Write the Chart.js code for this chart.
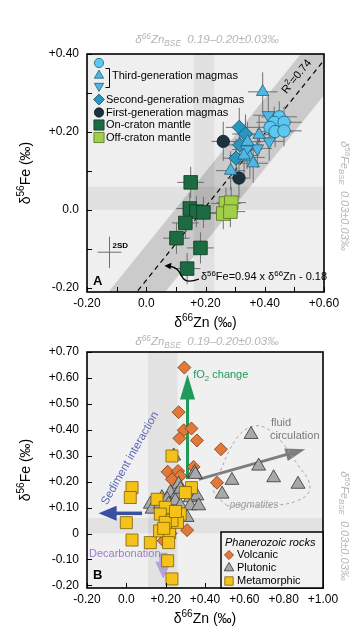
<!DOCTYPE html>
<html>
<head>
<meta charset="utf-8">
<script src="https://cdn.jsdelivr.net/npm/chart.js@4.4.1/dist/chart.umd.min.js"></script>
<style>
html, body { margin: 0; padding: 0; background: #fff; }
#wrap { position: relative; width: 364px; height: 631px; }
canvas { position: absolute; left: 0; }
#chartA { top: 0; }
#chartB { top: 332px; }
</style>
</head>
<body>
<div id="wrap">
  <canvas id="chartA" width="364" height="332"></canvas>
  <canvas id="chartB" width="364" height="299"></canvas>
</div>
<script>
// ---------- panel A data (delta66Zn, delta56Fe, per mil) ----------
const thirdCircleZn = [0.449, 0.432, 0.465, 0.418, 0.435, 0.465];
const thirdCircleFe = [0.239, 0.225, 0.225, 0.212, 0.201, 0.203];
const thirdUpZn = [0.393, 0.381, 0.342, 0.350, 0.361, 0.285, 0.330];
const thirdUpFe = [0.303, 0.193, 0.175, 0.135, 0.120, 0.101, 0.140];
const thirdDownZn = [0.412, 0.415, 0.375, 0.340];
const thirdDownFe = [0.243, 0.176, 0.158, 0.155];
const secondGenZn = [0.314, 0.335, 0.316, 0.303];
const secondGenFe = [0.212, 0.195, 0.167, 0.133];
const firstGenZn = [0.260, 0.313];
const firstGenFe = [0.176, 0.082];
const onCratonZn = [0.150, 0.147, 0.169, 0.193, 0.132, 0.102, 0.183, 0.138];
const onCratonFe = [0.071, 0.004, -0.004, -0.006, -0.033, -0.072, -0.097, -0.150];
const offCratonZn = [0.269, 0.287, 0.260, 0.284];
const offCratonFe = [0.017, 0.019, -0.009, -0.004];
// 2SD error (Zn, Fe) for each group
const errThirdCircle = [0.06, 0.04];
const errThirdTri = [0.05, 0.05];
const errSecondGen = [0.045, 0.05];
const errFirstGen = [0.04, 0.05];
const errOnCraton = [0.045, 0.04];
const errOffCraton = [0.05, 0.04];
const err2SD = [0.04, 0.04];
const pos2SD = [-0.124, -0.108];

// regression: d56Fe = 0.94 x d66Zn - 0.18, shaded envelope
const regSlope = 0.94;
const regIntercept = -0.18;
const regBand = 0.09;
const regZn = [-0.2, 0.6];

// BSE reference ranges
const znBseBandA = [0.16, 0.23];
const feBseBand = [0.0, 0.06];

const xTicksA = [-0.2, -0.1, 0, 0.1, 0.2, 0.3, 0.4, 0.5, 0.6];
const xLabelsA = ['-0.20', '', '0.0', '', '+0.20', '', '+0.40', '', '+0.60'];
const yTicksA = [-0.2, -0.1, 0, 0.1, 0.2, 0.3, 0.4];
const yLabelsA = ['-0.20', '', '0.0', '', '+0.20', '', '+0.40'];

// ---------- panel B data ----------
const volcanicZn = [0.295, 0.266, 0.292, 0.331, 0.270, 0.359, 0.481, 0.210, 0.263, 0.342, 0.274, 0.461, 0.232, 0.309, 0.190, 0.225];
const volcanicFe = [0.640, 0.468, 0.398, 0.405, 0.367, 0.359, 0.325, 0.238, 0.241, 0.257, 0.222, 0.196, 0.209, 0.013, -0.028, 0.000];
const plutonicZn = [0.634, 0.673, 0.749, 0.873, 0.537, 0.487, 0.241, 0.347, 0.266, 0.351, 0.224, 0.258, 0.181, 0.207, 0.325, 0.359, 0.122, 0.131, 0.173, 0.215, 0.249, 0.275, 0.325, 0.368, 0.309, 0.275];
const plutonicFe = [0.382, 0.260, 0.215, 0.190, 0.205, 0.152, 0.299, 0.235, 0.190, 0.228, 0.158, 0.152, 0.138, 0.132, 0.138, 0.145, 0.113, 0.094, 0.113, 0.113, 0.126, 0.107, 0.107, 0.107, 0.062, 0.171];
const metamorphicZn = [0.232, 0.029, 0.020, 0.000, 0.029, 0.331, 0.300, 0.156, 0.122, 0.169, 0.220, 0.215, 0.210, 0.198, 0.274, 0.260, 0.173, 0.232, 0.198, 0.232, 0.190, 0.250];
const metamorphicFe = [0.299, 0.177, 0.139, 0.042, -0.025, 0.177, 0.158, 0.132, -0.035, 0.010, 0.004, -0.035, -0.105, 0.101, 0.075, 0.043, 0.075, 0.050, 0.043, -0.175, 0.020, 0.085];
const pegOutlineZn = [0.512, 0.444, 0.478, 0.563, 0.647, 0.724, 0.800, 0.876, 0.927, 0.927, 0.868, 0.766, 0.512];
const pegOutlineFe = [0.107, 0.164, 0.241, 0.369, 0.414, 0.401, 0.344, 0.260, 0.203, 0.158, 0.126, 0.110, 0.107];
const znBseBandB = [0.11, 0.26];

const xTicksB = [-0.2, 0, 0.2, 0.4, 0.6, 0.8, 1.0];
const xLabelsB = ['-0.20', '0.0', '+0.20', '+0.40', '+0.60', '+0.80', '+1.00'];
const yTicksB = [-0.2, -0.1, 0, 0.1, 0.2, 0.3, 0.4, 0.5, 0.6, 0.7];
const yLabelsB = ['-0.20', '-0.10', '0', '+0.10', '+0.20', '+0.30', '+0.40', '+0.50', '+0.60', '+0.70'];

// trend arrows, [Zn0, Fe0, Zn1, Fe1]
const arrowFO2 = [0.311, 0.21, 0.311, 0.613];
const arrowSediment = [0.08, 0.078, -0.141, 0.078];
const arrowFluid = [0.368, 0.209, 0.91, 0.325];
const arrowDecarb = [0.188, -0.074, 0.188, -0.174];

// ---------- helpers ----------
const FONT = "'Liberation Sans', Arial, Helvetica, sans-serif";
Chart.defaults.font.family = FONT;
Chart.defaults.color = '#000';
const drawPoint = Chart.helpers.drawPoint;

const mk = (zn, fe) => zn.map((x, i) => ({ x, y: fe[i] }));

function rich(ctx, parts, x, y, size, opt) {
  opt = opt || {};
  const st = (opt.italic ? 'italic ' : '') + (opt.bold ? 'bold ' : '');
  const segs = parts.map(p => {
    const t = p[0], k = p[1] || 0;
    const s = k ? size * 0.72 : size;
    ctx.font = st + s + 'px ' + FONT;
    return { t, k, s, w: ctx.measureText(t).width };
  });
  const total = segs.reduce((a, b) => a + b.w, 0);
  let cx = opt.align === 'left' ? x : x - total / 2;
  ctx.save();
  ctx.fillStyle = opt.color || '#000';
  ctx.textBaseline = 'middle';
  ctx.textAlign = 'left';
  segs.forEach(g => {
    ctx.font = st + g.s + 'px ' + FONT;
    const dy = g.k === 1 ? -size * 0.33 : g.k === -1 ? size * 0.3 : 0;
    ctx.fillText(g.t, cx, y + dy);
    cx += g.w;
  });
  ctx.restore();
}

function arrow(ctx, x1, y1, x2, y2, color, lw, hl, hw) {
  const a = Math.atan2(y2 - y1, x2 - x1);
  const len = Math.hypot(x2 - x1, y2 - y1);
  ctx.save();
  ctx.translate(x2, y2);
  ctx.rotate(a);
  ctx.fillStyle = color;
  ctx.fillRect(-len, -lw / 2, len - hl + 1, lw);
  ctx.beginPath();
  ctx.moveTo(0, 0);
  ctx.lineTo(-hl, -hw / 2);
  ctx.lineTo(-hl, hw / 2);
  ctx.closePath();
  ctx.fill();
  ctx.restore();
}

function frameAndTicks(chart, xt, yt) {
  const { ctx, chartArea: a, scales: { x, y } } = chart;
  ctx.save();
  ctx.strokeStyle = '#000';
  ctx.lineWidth = 1;
  ctx.beginPath();
  xt.forEach(v => {
    const px = Math.round(x.getPixelForValue(v)) + 0.5;
    ctx.moveTo(px, a.bottom); ctx.lineTo(px, a.bottom - 5);
  });
  yt.forEach(v => {
    const py = Math.round(y.getPixelForValue(v)) + 0.5;
    ctx.moveTo(a.left, py); ctx.lineTo(a.left + 5, py);
  });
  ctx.stroke();
  ctx.lineWidth = 1.6;
  ctx.strokeRect(a.left, a.top, a.right - a.left, a.bottom - a.top);
  ctx.restore();
}

function axisTitles(chart, yMid) {
  const { ctx, chartArea: a } = chart;
  rich(ctx, [['δ'], ['66', 1], ['Zn (‰)']], (a.left + a.right) / 2, a.bottom + 31, 14);
  ctx.save();
  ctx.translate(26, yMid);
  ctx.rotate(-Math.PI / 2);
  rich(ctx, [['δ'], ['56', 1], ['Fe (‰)']], 0, 0, 14);
  ctx.restore();
}

function bseLabels(chart, topY, rightMid) {
  const { ctx } = chart;
  const grey = '#b4b4b4';
  rich(ctx, [['δ'], ['66', 1], ['Zn'], ['BSE', -1], ['  0.19–0.20±0.03‰']], 207, topY, 11.5, { italic: true, color: grey });
  ctx.save();
  ctx.translate(344, rightMid);
  ctx.rotate(Math.PI / 2);
  rich(ctx, [['δ'], ['56', 1], ['Fe'], ['BSE', -1], ['  0.03±0.03‰']], 0, 0, 11, { italic: true, color: grey });
  ctx.restore();
}

function axis(min, max, ticks, labels, size, pad) {
  return {
    type: 'linear', min, max,
    grid: { display: false, drawTicks: false },
    border: { display: false },
    afterBuildTicks: s => { s.ticks = ticks.map(v => ({ value: v })); },
    afterFit: s => { if (s.isHorizontal()) s.height = size; else s.width = size; },
    ticks: {
      autoSkip: false, maxRotation: 0, minRotation: 0, padding: pad,
      font: { size: 12 }, color: '#000',
      callback: (v, i) => labels[i]
    }
  };
}

function pts(label, zn, fe, style, r, fill, edge, extra) {
  return Object.assign({
    type: 'scatter', label, data: mk(zn, fe), pointStyle: style, pointRadius: r,
    pointBackgroundColor: fill, pointBorderColor: edge, pointBorderWidth: 0.8, order: 0
  }, extra || {});
}

// ---------- panel A ----------
const styleA = {
  thirdCircle: ['circle', 6.2, '#5cc8ef', '#1f5f7c'],
  thirdUp: ['triangle', 7.2, '#4fb8e2', '#1f5f7c'],
  thirdDown: ['triangle', 7.2, '#4fb8e2', '#1f5f7c'],
  secondGen: ['rectRot', 7.2, '#2796c0', '#174f66'],
  firstGen: ['circle', 6.2, '#1b3340', '#0b1a22'],
  onCraton: ['rect', 9.6, '#1d6b43', '#0b3a21'],
  offCraton: ['rect', 9.6, '#a2cf4a', '#557420']
};

function errorBars(chart) {
  const { ctx, scales: { x, y } } = chart;
  ctx.save();
  ctx.strokeStyle = '#6f6f6f';
  ctx.lineWidth = 1;
  ctx.beginPath();
  chart.data.datasets.forEach(ds => {
    if (!ds.err) return;
    ds.data.forEach(p => {
      const px = x.getPixelForValue(p.x), py = y.getPixelForValue(p.y);
      ctx.moveTo(x.getPixelForValue(p.x - ds.err[0]), py);
      ctx.lineTo(x.getPixelForValue(p.x + ds.err[0]), py);
      ctx.moveTo(px, y.getPixelForValue(p.y - ds.err[1]));
      ctx.lineTo(px, y.getPixelForValue(p.y + ds.err[1]));
    });
  });
  ctx.stroke();
  ctx.restore();
}

const decoA = {
  id: 'decoA',
  beforeDatasetsDraw(chart) {
    const { ctx, chartArea: a, scales: { x, y } } = chart;
    ctx.save();
    ctx.fillStyle = '#efefef';
    ctx.fillRect(a.left, a.top, a.right - a.left, a.bottom - a.top);
    ctx.fillStyle = 'rgba(0,0,0,0.055)';
    const x0 = x.getPixelForValue(znBseBandA[0]), x1 = x.getPixelForValue(znBseBandA[1]);
    ctx.fillRect(x0, a.top, x1 - x0, a.bottom - a.top);
    const y0 = y.getPixelForValue(feBseBand[1]), y1 = y.getPixelForValue(feBseBand[0]);
    ctx.fillRect(a.left, y0, a.right - a.left, y1 - y0);
    ctx.restore();
  },
  afterDatasetDraw(chart, args) {
    if (chart.data.datasets[args.index].label === 'reg') errorBars(chart);
  },
  afterDraw(chart) {
    const { ctx, chartArea: a, scales: { x, y } } = chart;
    frameAndTicks(chart, xTicksA, yTicksA);
    axisTitles(chart, (a.top + a.bottom) / 2);
    bseLabels(chart, 40, 196);

    // 2SD cross
    const cx = x.getPixelForValue(pos2SD[0]), cy = y.getPixelForValue(pos2SD[1]);
    ctx.save();
    ctx.strokeStyle = '#6f6f6f';
    ctx.lineWidth = 1;
    ctx.beginPath();
    ctx.moveTo(x.getPixelForValue(pos2SD[0] - err2SD[0]), cy);
    ctx.lineTo(x.getPixelForValue(pos2SD[0] + err2SD[0]), cy);
    ctx.moveTo(cx, y.getPixelForValue(pos2SD[1] - err2SD[1]));
    ctx.lineTo(cx, y.getPixelForValue(pos2SD[1] + err2SD[1]));
    ctx.stroke();
    ctx.restore();
    rich(ctx, [['2SD']], cx + 3, cy - 6, 8, { bold: true, align: 'left' });

    // panel letter, R2, equation + pointer
    rich(ctx, [['A']], a.left + 6, a.bottom - 11, 13, { bold: true, align: 'left' });
    ctx.save();
    ctx.translate(x.getPixelForValue(0.508), y.getPixelForValue(0.342));
    ctx.rotate(-Math.atan(regSlope * (y.getPixelForValue(0) - y.getPixelForValue(1)) / (x.getPixelForValue(1) - x.getPixelForValue(0))));
    rich(ctx, [['R'], ['2', 1], ['=0.74']], 0, 0, 11);
    ctx.restore();
    const ex = x.getPixelForValue(0.171), ey = y.getPixelForValue(-0.177);
    rich(ctx, [['δ'], ['56', 1], ['Fe=0.94 x δ'], ['66', 1], ['Zn - 0.18']], ex + 4, ey - 2, 11, { align: 'left' });
    const tx = x.getPixelForValue(0.065), ty = y.getPixelForValue(-0.144);
    ctx.save();
    ctx.strokeStyle = '#000';
    ctx.lineWidth = 1.3;
    ctx.beginPath();
    ctx.moveTo(ex + 2, ey);
    ctx.bezierCurveTo(ex - 22, ey + 8, ex - 10, ty + 2, tx + 4, ty);
    ctx.stroke();
    ctx.fillStyle = '#000';
    ctx.beginPath();
    ctx.moveTo(tx - 1, ty - 0.5);
    ctx.lineTo(tx + 6, ty - 3.5);
    ctx.lineTo(tx + 5, ty + 3);
    ctx.closePath();
    ctx.fill();
    ctx.restore();

    // legend
    const lx = 99;
    const legendPt = (sty, py, rot) => {
      ctx.save();
      ctx.fillStyle = sty[2];
      ctx.strokeStyle = sty[3];
      ctx.lineWidth = 0.8;
      drawPoint(ctx, { pointStyle: sty[0], radius: sty[1] * 0.75, rotation: rot || 0, borderWidth: 0.8 }, lx, py);
      ctx.restore();
    };
    legendPt(styleA.thirdCircle, 63);
    legendPt(styleA.thirdUp, 75.5);
    legendPt(styleA.thirdDown, 86, 180);
    ctx.save();
    ctx.strokeStyle = '#000';
    ctx.lineWidth = 1;
    ctx.beginPath();
    ctx.moveTo(105.5, 68.5); ctx.lineTo(109.5, 68.5); ctx.lineTo(109.5, 87.5); ctx.lineTo(105.5, 87.5);
    ctx.stroke();
    ctx.restore();
    rich(ctx, [['Third-generation magmas']], 112, 75.5, 11, { align: 'left' });
    legendPt(styleA.secondGen, 99.5);
    rich(ctx, [['Second-generation magmas']], 106, 99.5, 11, { align: 'left' });
    legendPt(styleA.firstGen, 112.5);
    rich(ctx, [['First-generation magmas']], 106, 112.5, 11, { align: 'left' });
    legendPt(styleA.onCraton, 125);
    rich(ctx, [['On-craton mantle']], 106, 125, 11, { align: 'left' });
    legendPt(styleA.offCraton, 137.5);
    rich(ctx, [['Off-craton mantle']], 106, 137.5, 11, { align: 'left' });
  }
};

const regLine = z => regSlope * z + regIntercept;
new Chart(document.getElementById('chartA'), {
  type: 'scatter',
  data: {
    datasets: [
      pts('Third-generation magmas', thirdCircleZn, thirdCircleFe, ...styleA.thirdCircle, { err: errThirdCircle }),
      pts('Third-generation magmas (up)', thirdUpZn, thirdUpFe, ...styleA.thirdUp, { err: errThirdTri }),
      pts('Third-generation magmas (down)', thirdDownZn, thirdDownFe, ...styleA.thirdDown, { err: errThirdTri, pointRotation: 180 }),
      pts('Second-generation magmas', secondGenZn, secondGenFe, ...styleA.secondGen, { err: errSecondGen }),
      pts('First-generation magmas', firstGenZn, firstGenFe, ...styleA.firstGen, { err: errFirstGen }),
      pts('On-craton mantle', onCratonZn, onCratonFe, ...styleA.onCraton, { err: errOnCraton }),
      pts('Off-craton mantle', offCratonZn, offCratonFe, ...styleA.offCraton, { err: errOffCraton }),
      {
        type: 'line', label: 'reg', data: regZn.map(z => ({ x: z, y: regLine(z) })),
        borderColor: '#000', borderWidth: 1.2, borderDash: [5, 4], pointRadius: 0, fill: false, order: 5
      },
      {
        type: 'line', label: 'bandUpper', data: regZn.map(z => ({ x: z, y: regLine(z) + regBand })),
        borderWidth: 0, pointRadius: 0, fill: false, order: 10
      },
      {
        type: 'line', label: 'bandLower', data: regZn.map(z => ({ x: z, y: regLine(z) - regBand })),
        borderWidth: 0, pointRadius: 0, fill: '-1', backgroundColor: 'rgba(0,0,0,0.15)', order: 10
      }
    ]
  },
  options: {
    responsive: false, animation: false, events: [],
    layout: { padding: { left: 0, top: 54, right: 40, bottom: 0 } },
    scales: {
      x: axis(-0.2, 0.6, xTicksA, xLabelsA, 40, 4),
      y: axis(-0.21, 0.40, yTicksA, yLabelsA, 87, 8)
    },
    plugins: { legend: { display: false }, tooltip: { enabled: false } }
  },
  plugins: [decoA]
});

// ---------- panel B ----------
const styleB = {
  volcanic: ['rectRot', 6.5, '#e0793a', '#7a3a10'],
  plutonic: ['triangle', 8, '#a8a8a8', '#333333'],
  metamorphic: ['rect', 8.5, '#f5c21a', '#7d5f00']
};

const decoB = {
  id: 'decoB',
  beforeDatasetsDraw(chart) {
    const { ctx, chartArea: a, scales: { x, y } } = chart;
    ctx.save();
    ctx.fillStyle = '#f0f0f0';
    ctx.fillRect(a.left, a.top, a.right - a.left, a.bottom - a.top);
    ctx.fillStyle = 'rgba(0,0,0,0.055)';
    const x0 = x.getPixelForValue(znBseBandB[0]), x1 = x.getPixelForValue(znBseBandB[1]);
    ctx.fillRect(x0, a.top, x1 - x0, a.bottom - a.top);
    const y0 = y.getPixelForValue(feBseBand[1]), y1 = y.getPixelForValue(feBseBand[0]);
    ctx.fillRect(a.left, y0, a.right - a.left, y1 - y0);
    ctx.restore();
    const A = (d, c, lw, hl, hw) => arrow(ctx, x.getPixelForValue(d[0]), y.getPixelForValue(d[1]),
      x.getPixelForValue(d[2]), y.getPixelForValue(d[3]), c, lw, hl, hw);
    A(arrowDecarb, '#b6a2d8', 8, 17, 16);
    A(arrowFO2, '#1f9a5b', 3, 25, 15);
    A(arrowSediment, '#3a4f9f', 3.5, 18, 15);
    A(arrowFluid, '#7d7d7d', 3, 20, 13);
  },
  afterDraw(chart) {
    const { ctx, chartArea: a, scales: { x, y } } = chart;
    frameAndTicks(chart, xTicksB, yTicksB);
    axisTitles(chart, (a.top + a.bottom) / 2);
    bseLabels(chart, 10, 194);
    rich(ctx, [['B']], a.left + 6, a.bottom - 13, 13, { bold: true, align: 'left' });

    rich(ctx, [['fO'], ['2', -1], [' change']], x.getPixelForValue(0.34), y.getPixelForValue(0.61), 11, { color: '#1f9a5b', align: 'left' });
    rich(ctx, [['fluid']], 271, y.getPixelForValue(0.428), 11, { color: '#7a7a7a', align: 'left' });
    rich(ctx, [['circulation']], 270, y.getPixelForValue(0.376), 11, { color: '#7a7a7a', align: 'left' });
    rich(ctx, [['pegmatites']], x.getPixelForValue(0.65), y.getPixelForValue(0.11), 10, { italic: true, color: '#a0a0a0' });
    rich(ctx, [['Decarbonation']], 89, y.getPixelForValue(-0.078), 11, { color: '#9a7cc8', align: 'left' });
    ctx.save();
    ctx.translate(130, y.getPixelForValue(0.29));
    ctx.rotate(-60.5 * Math.PI / 180);
    rich(ctx, [['Sediment interaction']], 0, 0, 11.5, { color: '#5b67b6' });
    ctx.restore();

    // legend box
    const bx = 221, by = a.bottom - 56;
    ctx.save();
    ctx.fillStyle = '#f2f2f2';
    ctx.fillRect(bx, by, a.right - bx, a.bottom - by);
    ctx.strokeStyle = '#000';
    ctx.lineWidth = 1.5;
    ctx.strokeRect(bx, by, a.right - bx, a.bottom - by);
    ctx.restore();
    rich(ctx, [['Phanerozoic rocks']], bx + 4, by + 11, 11, { italic: true, align: 'left' });
    const items = [['Volcanic', styleB.volcanic], ['Plutonic', styleB.plutonic], ['Metamorphic', styleB.metamorphic]];
    items.forEach((it, i) => {
      const py = by + 23 + i * 13;
      ctx.save();
      ctx.fillStyle = it[1][2];
      ctx.strokeStyle = it[1][3];
      ctx.lineWidth = 0.8;
      drawPoint(ctx, { pointStyle: it[1][0], radius: it[1][1] * 0.7, borderWidth: 0.8 }, bx + 8, py);
      ctx.restore();
      rich(ctx, [[it[0]]], bx + 16, py, 11, { align: 'left' });
    });
  }
};

new Chart(document.getElementById('chartB'), {
  type: 'scatter',
  data: {
    datasets: [
      pts('Metamorphic', metamorphicZn, metamorphicFe, ...styleB.metamorphic),
      pts('Plutonic', plutonicZn, plutonicFe, ...styleB.plutonic),
      pts('Volcanic', volcanicZn, volcanicFe, ...styleB.volcanic),
      {
        type: 'line', label: 'pegmatites', data: mk(pegOutlineZn, pegOutlineFe),
        borderColor: '#a5a5a5', borderWidth: 1, borderDash: [3, 3], tension: 0.4,
        pointRadius: 0, fill: false, order: 5
      }
    ]
  },
  options: {
    responsive: false, animation: false, events: [],
    layout: { padding: { left: 0, top: 20, right: 41, bottom: 0 } },
    scales: {
      x: axis(-0.2, 1.0, xTicksB, xLabelsB, 43, 4),
      y: axis(-0.21, 0.70, yTicksB, yLabelsB, 87, 8)
    },
    plugins: { legend: { display: false }, tooltip: { enabled: false } }
  },
  plugins: [decoB]
});
</script>
</body>
</html>
